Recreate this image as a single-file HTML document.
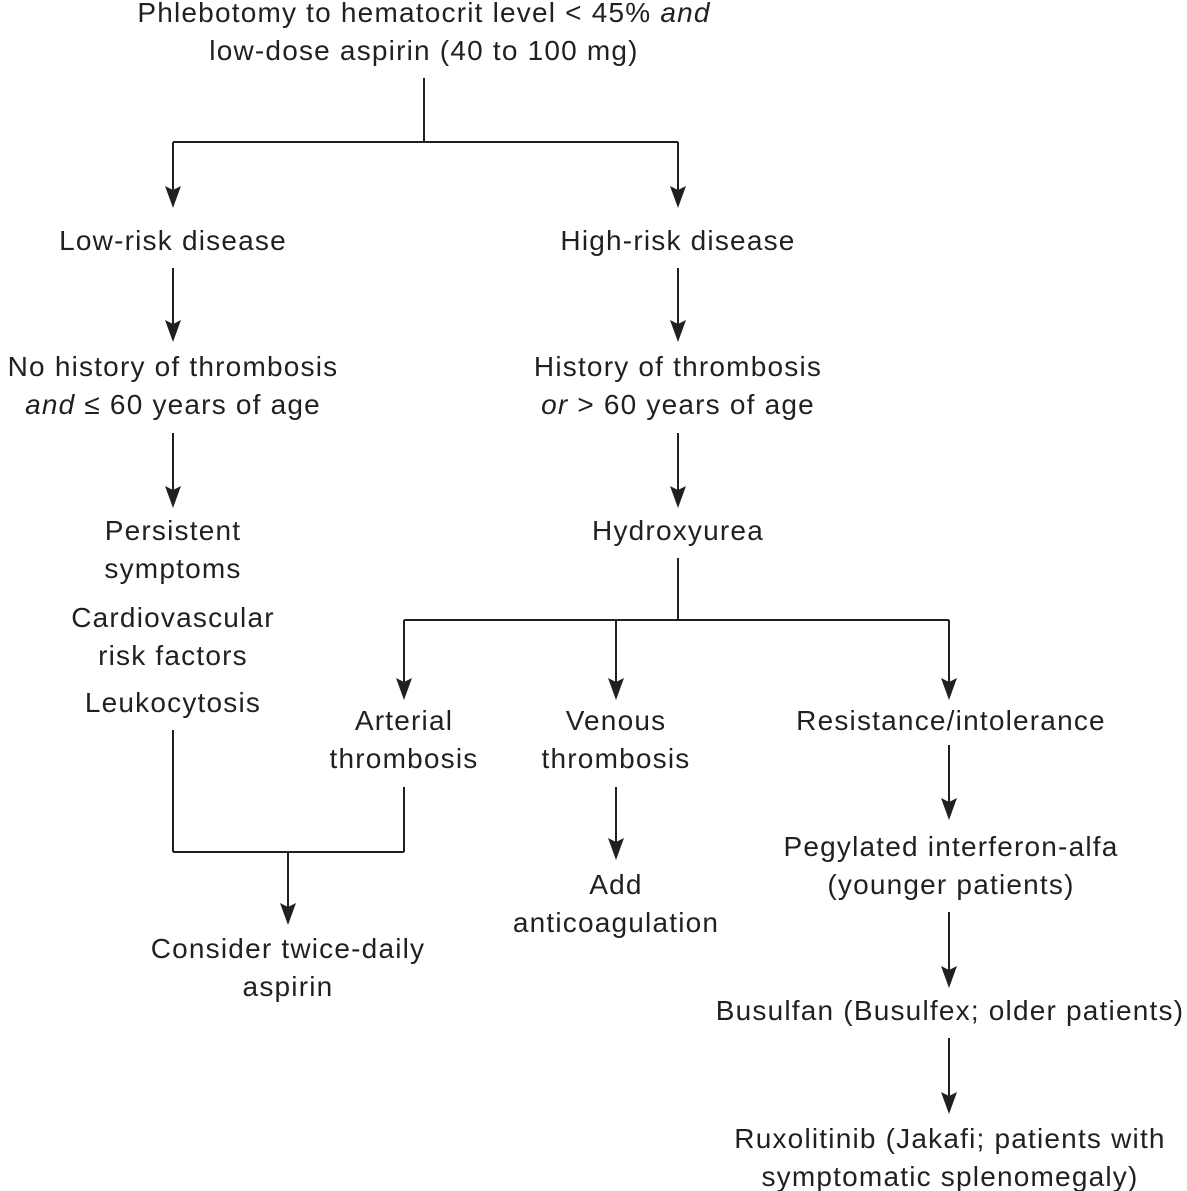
<!DOCTYPE html>
<html><head><meta charset="utf-8"><style>
html,body{margin:0;padding:0;background:#fff;}
svg{display:block}
text{font-family:"Liberation Sans",sans-serif;font-size:28px;letter-spacing:1.2px;fill:#231f20;text-anchor:middle}
line{stroke:#231f20;stroke-width:2}
</style></head><body>
<svg width="1187" height="1191" viewBox="0 0 1187 1191">
<text x="424" y="22">Phlebotomy to hematocrit level &lt; 45% <tspan font-style="italic">and</tspan></text>
<text x="424" y="60">low-dose aspirin (40 to 100 mg)</text>
<line x1="424" y1="78" x2="424" y2="142"/>
<line x1="173" y1="142" x2="678" y2="142"/>
<g fill="#231f20">
<line x1="173" y1="142" x2="173" y2="200"/><path d="M165,186 L173,190 L181,186 L173,208Z"/>
<line x1="678" y1="142" x2="678" y2="200"/><path d="M670,186 L678,190 L686,186 L678,208Z"/>
<line x1="173" y1="268" x2="173" y2="334"/><path d="M165,320 L173,324 L181,320 L173,342Z"/>
<line x1="678" y1="268" x2="678" y2="334"/><path d="M670,320 L678,324 L686,320 L678,342Z"/>
<line x1="173" y1="433" x2="173" y2="500"/><path d="M165,486 L173,490 L181,486 L173,508Z"/>
<line x1="678" y1="433" x2="678" y2="500"/><path d="M670,486 L678,490 L686,486 L678,508Z"/>
<line x1="678" y1="558" x2="678" y2="620"/>
<line x1="404" y1="620" x2="949" y2="620"/>
<line x1="404" y1="620" x2="404" y2="692"/><path d="M396,678 L404,682 L412,678 L404,700Z"/>
<line x1="616" y1="620" x2="616" y2="692"/><path d="M608,678 L616,682 L624,678 L616,700Z"/>
<line x1="949" y1="620" x2="949" y2="692"/><path d="M941,678 L949,682 L957,678 L949,700Z"/>
<line x1="173" y1="730" x2="173" y2="852"/>
<line x1="404" y1="787" x2="404" y2="852"/>
<line x1="173" y1="852" x2="404" y2="852"/>
<line x1="288" y1="852" x2="288" y2="917"/><path d="M280,903 L288,907 L296,903 L288,925Z"/>
<line x1="616" y1="787" x2="616" y2="852"/><path d="M608,838 L616,842 L624,838 L616,860Z"/>
<line x1="949" y1="745" x2="949" y2="812"/><path d="M941,798 L949,802 L957,798 L949,820Z"/>
<line x1="949" y1="912" x2="949" y2="980"/><path d="M941,966 L949,970 L957,966 L949,988Z"/>
<line x1="949" y1="1038" x2="949" y2="1106"/><path d="M941,1092 L949,1096 L957,1092 L949,1114Z"/>
</g>
<text x="173" y="250">Low-risk disease</text>
<text x="678" y="250">High-risk disease</text>
<text x="173" y="376">No history of thrombosis</text>
<text x="173" y="414"><tspan font-style="italic">and</tspan> ≤ 60 years of age</text>
<text x="678" y="376">History of thrombosis</text>
<text x="678" y="414"><tspan font-style="italic">or</tspan> &gt; 60 years of age</text>
<text x="173" y="540">Persistent</text>
<text x="173" y="578">symptoms</text>
<text x="173" y="627">Cardiovascular</text>
<text x="173" y="665">risk factors</text>
<text x="173" y="712">Leukocytosis</text>
<text x="678" y="540">Hydroxyurea</text>
<text x="404" y="730">Arterial</text>
<text x="404" y="768">thrombosis</text>
<text x="616" y="730">Venous</text>
<text x="616" y="768">thrombosis</text>
<text x="951" y="730">Resistance/intolerance</text>
<text x="288" y="958">Consider twice-daily</text>
<text x="288" y="996">aspirin</text>
<text x="616" y="894">Add</text>
<text x="616" y="932">anticoagulation</text>
<text x="951" y="856">Pegylated interferon-alfa</text>
<text x="951" y="894">(younger patients)</text>
<text x="950" y="1020">Busulfan (Busulfex; older patients)</text>
<text x="950" y="1148">Ruxolitinib (Jakafi; patients with</text>
<text x="950" y="1186">symptomatic splenomegaly)</text>
</svg>
</body></html>
